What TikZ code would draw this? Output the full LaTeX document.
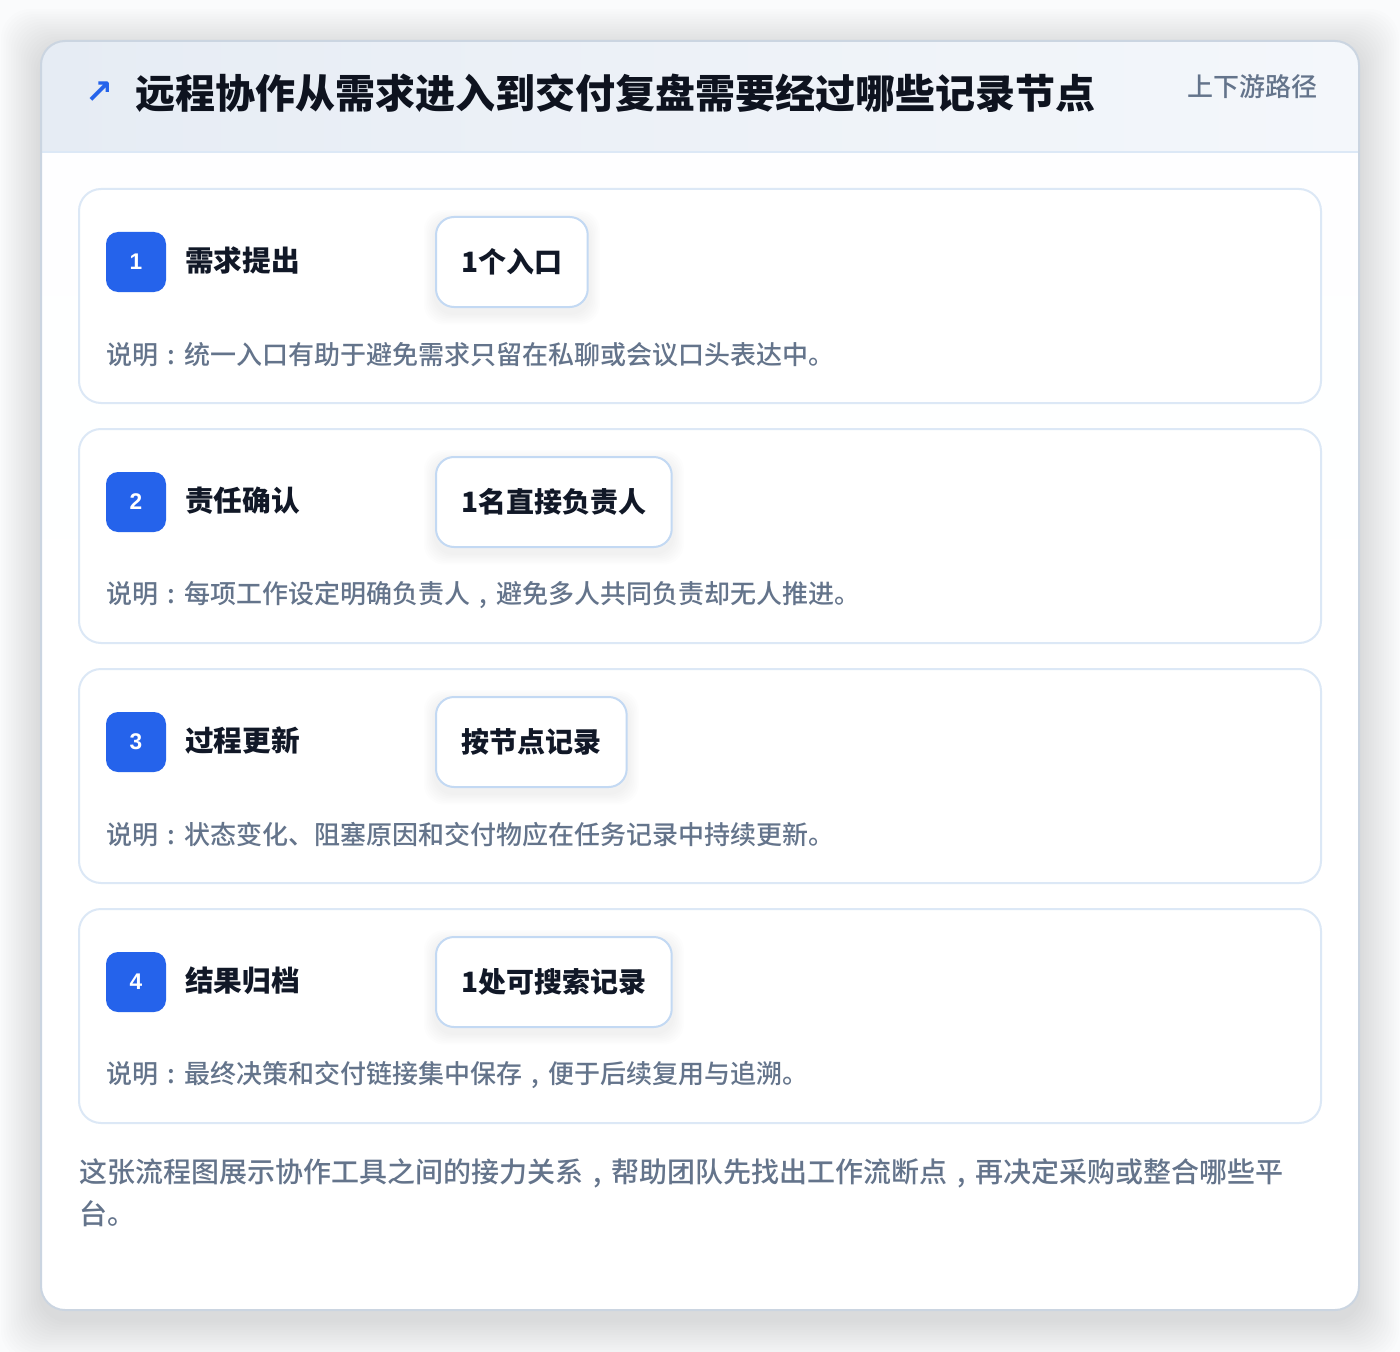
\documentclass[tikz,border=0pt]{standalone}
\usepackage{fontspec}
\setmainfont{Noto Sans CJK SC}[FontFace={mb}{n}{Noto Sans CJK SC Medium}]
\newfontfamily\arrowfont{DejaVu Sans}
\newfontfamily\numfont{Liberation Sans}
\usetikzlibrary{positioning}
\definecolor{pagebg}{HTML}{FAFBFC}
\definecolor{accent}{HTML}{2563EB}
\definecolor{ink}{HTML}{111827}
\definecolor{muted}{HTML}{64748B}
\definecolor{frame}{HTML}{CBD5E1}
\definecolor{cardline}{HTML}{DCE8F6}
\definecolor{pillline}{HTML}{C3D9F3}
\definecolor{headL}{HTML}{E6ECF4}
\definecolor{headR}{HTML}{F4F7FB}
\newcommand{\zhcolon}{\makebox[1em][c]{:}}
\newcommand{\zhcomma}{\makebox[1em][c]{,}}
\pgfdeclarelayer{back}
\pgfdeclarelayer{shade}
\pgfsetlayers{back,shade,main}

\begin{document}
\begin{tikzpicture}[x=0.75pt, y=-0.75pt,
stepcard/.style = {draw=cardline, line width=1.5pt, fill=white, rounded corners=16.5pt, minimum width=931.5pt, minimum height=160.5pt},
badge/.style = {fill=accent, rounded corners=9pt, minimum size=45pt, inner sep=0pt, text=white, font=\numfont\fontsize{17}{19}\selectfont\bfseries},
steptitle/.style = {anchor=west, inner sep=0pt, text=ink, font=\fontsize{21.5}{24}\selectfont\bfseries},
valuepill/.style = {anchor=west, draw=pillline, line width=1.5pt, fill=white, rounded corners=13.5pt, minimum height=67.5pt, inner xsep=19pt, text=ink, font=\fontsize{21}{24}\selectfont\bfseries},
note/.style = {anchor=west, inner sep=0pt, text=muted, font=\fontsize{19.5}{22}\fontseries{mb}\selectfont},
softshade/.style = {fill=black, opacity=#1},
]
\begin{pgfonlayer}{back}
\useasboundingbox (0,0) rectangle (1400,1352);
\fill[pagebg] (0,0) rectangle (1400,1352);

% soft shadow of the outer card
\foreach \k in {1,...,16}
  \fill[softshade=0.006, rounded corners=22pt] (41-2.5*\k,49-2.5*\k) rectangle (1359+2.5*\k,1320+2.5*\k);

% outer card with header band
\fill[white, rounded corners=18pt] (41,41) rectangle (1359,1310);
\begin{scope}
  \clip[rounded corners=18pt] (41,41) rectangle (1359,1310);
  \shade[top color=white!97!headL, bottom color=white] (41,152) rectangle (1359,1310);
  \shade[left color=headL, right color=headR] (41,41) rectangle (1359,152);
  \draw[cardline, line width=1.5pt] (41,152) -- (1359,152);
\end{scope}
\draw[frame, line width=1.5pt, rounded corners=18pt] (41,41) rectangle (1359,1310);
\end{pgfonlayer}

\node[text=accent, inner sep=0pt, font=\arrowfont\fontsize{25}{28}\selectfont\bfseries] (arrow) at (99,93) {↗};
\node[anchor=west, inner sep=0pt, text=ink!80!black, font=\fontsize{30}{34}\selectfont\bfseries] (title) at (135,93) {远程协作从需求进入到交付复盘需要经过哪些记录节点};
\node[anchor=east, inner sep=0pt, text=muted, font=\fontsize{19.5}{22}\fontseries{mb}\selectfont] (route) at (1318,87) {上下游路径};

% steps
\foreach \n/\ttl/\val/\desc in {
  1/需求提出/1个入口/{说明\zhcolon 统一入口有助于避免需求只留在私聊或会议口头表达中。},
  2/责任确认/1名直接负责人/{说明\zhcolon 每项工作设定明确负责人\zhcomma 避免多人共同负责却无人推进。},
  3/过程更新/按节点记录/{说明\zhcolon 状态变化、阻塞原因和交付物应在任务记录中持续更新。},
  4/结果归档/1处可搜索记录/{说明\zhcolon 最终决策和交付链接集中保存\zhcomma 便于后续复用与追溯。}}
{
  \pgfmathsetmacro{\ytop}{189+240*(\n-1)}
  \begin{pgfonlayer}{back}
    \node[stepcard] (step\n) at (700,\ytop+107) {};
  \end{pgfonlayer}
  \node[badge] (badge\n) at (136,\ytop+73) {\n};
  \node[steptitle] (name\n) at (185,\ytop+72) {\ttl};
  \node[valuepill] (value\n) at (435,\ytop+73) {\val};
  \begin{pgfonlayer}{shade}
    \foreach \k in {1,...,7}
      \fill[softshade=0.007, rounded corners=15pt]
        ([xshift=-1.2*\k pt, yshift=-1.2*\k pt-4pt]value\n.south west) rectangle ([xshift=1.2*\k pt, yshift=1.2*\k pt-4pt]value\n.north east);
  \end{pgfonlayer}
  \node[note] (note\n) at (106,\ytop+166) {\desc};
}

\node[anchor=north west, inner sep=0pt, align=left, text=muted, font=\fontsize{21}{31.5}\fontseries{mb}\selectfont] (summary) at (79,1158)
  {这张流程图展示协作工具之间的接力关系\zhcomma 帮助团队先找出工作流断点\zhcomma 再决定采购或整合哪些平\\台。};
\end{tikzpicture}
\end{document}
